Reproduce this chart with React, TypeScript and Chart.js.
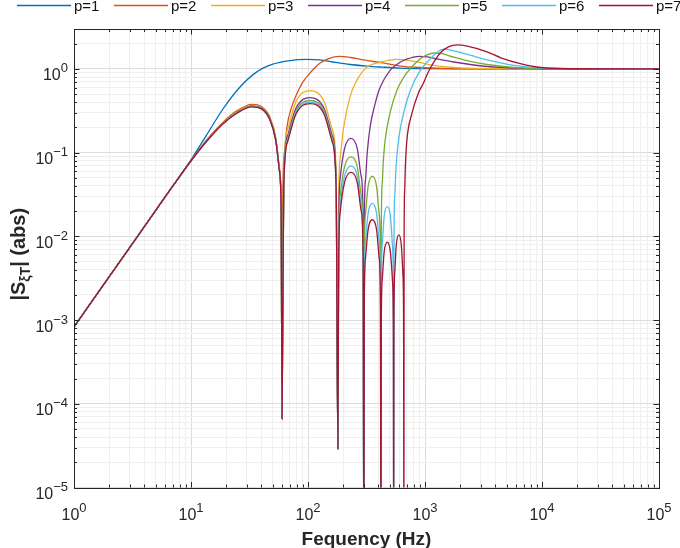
import { useEffect, useRef } from "react";
import { Chart, registerables } from "chart.js";

Chart.register(...registerables);

// |S_xiT| magnitude, one frequency/magnitude pair of arrays per curve
const seriesLabels = ["p=1", "p=2", "p=3", "p=4", "p=5", "p=6", "p=7"];

const freqP1 = [1, 2, 3, 5, 7, 10, 13.5, 18.7, 26, 36, 50, 70, 97, 126, 163, 230, 318, 437, 612, 1000, 2000, 5000, 100000];
const magP1 = [8.3e-4, 3.3e-3, 7.4e-3, 0.0205, 0.04, 0.082, 0.16, 0.33, 0.6, 0.91, 1.14, 1.26, 1.3, 1.28, 1.21, 1.13, 1.08, 1.05, 1.025, 1.01, 1.003, 1.0, 1.0];

const freqP2 = [1, 2, 3, 5, 7, 10, 13.5, 18.7, 25, 33, 40, 47, 53, 57, 59, 60, 61, 63, 66, 72, 80, 90, 103, 115, 126, 150, 185, 230, 300, 437, 600, 900, 1500, 3000, 100000];
const magP2 = [8.3e-4, 3.3e-3, 7.4e-3, 0.0205, 0.04, 0.08, 0.14, 0.23, 0.32, 0.378, 0.355, 0.27, 0.15, 0.065, 0.022, 6.6e-5, 0.035, 0.1, 0.2, 0.34, 0.5, 0.69, 0.88, 1.04, 1.17, 1.33, 1.41, 1.37, 1.28, 1.18, 1.09, 1.04, 1.015, 1.005, 1.0];

const freqP3 = [1, 2, 3, 5, 7, 10, 13.5, 18.7, 25, 33, 40, 47, 53, 57, 59, 60, 62, 67, 79, 104, 137, 161, 174, 180, 183, 189, 200, 228, 261, 318, 413, 574, 797, 1109, 1765, 3400, 100000];
const magP3 = [8.3e-4, 3.3e-3, 7.4e-3, 0.0205, 0.04, 0.08, 0.138, 0.225, 0.31, 0.366, 0.345, 0.262, 0.146, 0.063, 0.021, 6.6e-5, 0.055, 0.19, 0.41, 0.55, 0.41, 0.19, 0.055, 2.9e-5, 0.03, 0.09, 0.185, 0.46, 0.73, 1.05, 1.2, 1.3, 1.24, 1.12, 1.04, 1.01, 1.0];

const freqP4 = [1, 2, 3, 5, 7, 10, 13.5, 18.7, 25, 33, 40, 47, 53, 57, 59, 60, 62, 67, 79, 104, 137, 161, 174, 180, 183, 189, 205, 232, 264, 285, 296, 300, 303, 310, 320, 339, 374, 413, 503, 613, 797, 900, 1050, 1260, 1765, 2437, 3393, 6530, 10000, 100000];
const magP4 = [8.3e-4, 3.3e-3, 7.4e-3, 0.0205, 0.04, 0.08, 0.137, 0.223, 0.305, 0.36, 0.34, 0.258, 0.143, 0.062, 0.021, 6.6e-5, 0.045, 0.16, 0.34, 0.454, 0.34, 0.16, 0.045, 2.9e-5, 0.0148, 0.052, 0.111, 0.148, 0.111, 0.052, 0.0148, 1e-6, 0.014, 0.047, 0.095, 0.2, 0.38, 0.6, 0.96, 1.2, 1.38, 1.41, 1.39, 1.32, 1.21, 1.13, 1.07, 1.02, 1.005, 1.0];

const freqP5 = [1, 2, 3, 5, 7, 10, 13.5, 18.7, 25, 33, 40, 47, 53, 57, 59, 60, 62, 67, 79, 104, 137, 161, 174, 180, 183, 189, 205, 232, 264, 285, 296, 300, 303, 310, 326, 355, 386, 406, 416, 420, 423, 431, 440, 456, 503, 574, 700, 912, 1050, 1192, 1400, 1765, 2437, 3393, 6530, 10000, 100000];
const magP5 = [8.3e-4, 3.3e-3, 7.4e-3, 0.0205, 0.04, 0.08, 0.136, 0.222, 0.303, 0.357, 0.337, 0.255, 0.142, 0.061, 0.02, 6.6e-5, 0.042, 0.147, 0.315, 0.42, 0.315, 0.147, 0.042, 2.9e-5, 0.0089, 0.031, 0.067, 0.089, 0.067, 0.031, 0.0089, 1e-6, 0.00525, 0.0184, 0.039, 0.0525, 0.039, 0.0184, 0.00525, 1e-6, 0.012, 0.043, 0.078, 0.14, 0.3, 0.55, 0.9, 1.32, 1.48, 1.55, 1.52, 1.38, 1.23, 1.13, 1.03, 1.01, 1.0];

const freqP6 = [1, 2, 3, 5, 7, 10, 13.5, 18.7, 25, 33, 40, 47, 53, 57, 59, 60, 62, 67, 79, 104, 137, 161, 174, 180, 183, 189, 205, 232, 264, 285, 296, 300, 303, 310, 326, 355, 386, 406, 416, 420, 423, 431, 447, 476, 507, 527, 536, 540, 543, 551, 565, 593, 654, 747, 912, 1109, 1250, 1444, 1700, 2437, 3400, 4730, 6500, 9100, 15000, 100000];
const magP6 = [8.3e-4, 3.3e-3, 7.4e-3, 0.0205, 0.04, 0.08, 0.136, 0.221, 0.301, 0.355, 0.335, 0.253, 0.141, 0.061, 0.02, 6.6e-5, 0.04, 0.14, 0.3, 0.4, 0.3, 0.14, 0.04, 2.9e-5, 0.0069, 0.024, 0.052, 0.069, 0.052, 0.024, 0.0069, 1e-6, 0.0025, 0.0087, 0.0186, 0.0248, 0.0186, 0.0087, 0.0025, 1e-6, 0.0023, 0.0079, 0.017, 0.0226, 0.017, 0.0079, 0.0023, 1e-6, 0.008, 0.03, 0.065, 0.14, 0.29, 0.55, 0.96, 1.32, 1.55, 1.72, 1.67, 1.46, 1.28, 1.16, 1.08, 1.03, 1.01, 1.0];

const freqP7 = [1, 2, 3, 5, 7, 10, 13.5, 18.7, 25, 33, 40, 47, 53, 57, 59, 60, 62, 67, 79, 104, 137, 161, 174, 180, 183, 189, 205, 232, 264, 285, 296, 300, 303, 310, 326, 355, 386, 406, 416, 420, 423, 431, 447, 476, 507, 527, 536, 540, 543, 551, 568, 597, 628, 647, 656, 660, 663, 670, 680, 700, 771, 880, 971, 1040, 1109, 1350, 1600, 1900, 2300, 3393, 4500, 6530, 9800, 18000, 100000];
const magP7 = [8.3e-4, 3.3e-3, 7.4e-3, 0.0205, 0.04, 0.08, 0.135, 0.22, 0.3, 0.353, 0.333, 0.25, 0.14, 0.06, 0.02, 6.6e-5, 0.0385, 0.135, 0.29, 0.385, 0.29, 0.135, 0.0385, 2.9e-5, 0.0058, 0.02, 0.0435, 0.058, 0.0435, 0.02, 0.0058, 1e-6, 0.0016, 0.0055, 0.0119, 0.0158, 0.0119, 0.0055, 0.0016, 1e-6, 0.00085, 0.003, 0.0064, 0.0085, 0.0064, 0.003, 0.00085, 1e-6, 0.00104, 0.0036, 0.0078, 0.0104, 0.0078, 0.0036, 0.00104, 1e-6, 0.01, 0.035, 0.07, 0.14, 0.29, 0.52, 0.68, 0.85, 1.02, 1.55, 1.85, 1.94, 1.87, 1.6, 1.35, 1.16, 1.04, 1.005, 1.0];

const seriesFreq = [freqP1, freqP2, freqP3, freqP4, freqP5, freqP6, freqP7];
const seriesMag = [magP1, magP2, magP3, magP4, magP5, magP6, magP7];

// axis decades (labels are 10^exp) and minor grid mantissas
const xTickExps = [0, 1, 2, 3, 4, 5];
const yTickExps = [-5, -4, -3, -2, -1, 0];
const gridMantissas = [1, 2, 3, 4, 5, 6, 7, 8, 9];
const X_MIN = 1;
const X_MAX = 1e5;
const Y_MIN = 1e-5;
const Y_MAX = 3;

// MATLAB default line colours
const lineColors = ["#0072BD", "#D95319", "#EDB120", "#7E2F8E", "#77AC30", "#4DBEEE", "#A2142F"];

const FONT = '"Liberation Sans", Arial, Helvetica, sans-serif';
const AXIS_COLOR = "#262626";
const MAJOR_GRID = "#dcdcdc";
const MINOR_GRID = "#efefef";

function gridValues(exps: number[], max: number) {
  const vals: number[] = [];
  for (let e = exps[0]; e <= exps[exps.length - 1]; e++) {
    for (const m of gridMantissas) {
      const v = m * Math.pow(10, e);
      if (v <= max * 1.000001) vals.push(v);
    }
  }
  return vals;
}

function isDecade(v: number) {
  const l = Math.log10(v);
  return Math.abs(l - Math.round(l)) < 1e-9;
}

// "10" with a raised exponent, like MATLAB's TeX tick labels
function drawPow(ctx: CanvasRenderingContext2D, x: number, baseY: number, exp: number, align: "center" | "right") {
  const expText = exp < 0 ? "\u2212" + Math.abs(exp) : String(exp);
  ctx.font = `16px ${FONT}`;
  const wBase = ctx.measureText("10").width;
  ctx.font = `13px ${FONT}`;
  const wExp = ctx.measureText(expText).width;
  const total = wBase + wExp;
  const start = align === "center" ? x - total / 2 : x - total;
  ctx.textAlign = "left";
  ctx.textBaseline = "alphabetic";
  ctx.font = `16px ${FONT}`;
  ctx.fillText("10", start, baseY);
  ctx.font = `13px ${FONT}`;
  ctx.fillText(expText, start + wBase, baseY - 8);
}

const matlabAxes = {
  id: "matlabAxes",
  afterDraw(chart: any) {
    const { ctx, chartArea } = chart;
    const { left, right, top, bottom } = chartArea;
    const xs = chart.scales.x;
    const ys = chart.scales.y;
    ctx.save();

    // inward tick marks on all four sides
    ctx.strokeStyle = AXIS_COLOR;
    ctx.lineWidth = 1;
    ctx.beginPath();
    for (const t of xs.ticks) {
      const px = Math.round(xs.getPixelForValue(t.value)) + 0.5;
      if (px <= left + 1 || px >= right - 1) continue;
      const len = isDecade(t.value) ? 5.5 : 3;
      ctx.moveTo(px, bottom);
      ctx.lineTo(px, bottom - len);
      ctx.moveTo(px, top);
      ctx.lineTo(px, top + len);
    }
    for (const t of ys.ticks) {
      const py = Math.round(ys.getPixelForValue(t.value)) + 0.5;
      if (py <= top + 1 || py >= bottom - 1) continue;
      const len = isDecade(t.value) ? 5.5 : 3;
      ctx.moveTo(left, py);
      ctx.lineTo(left + len, py);
      ctx.moveTo(right, py);
      ctx.lineTo(right - len, py);
    }
    ctx.stroke();

    // axes box
    ctx.strokeRect(Math.round(left) + 0.5, Math.round(top) + 0.5, Math.round(right - left), Math.round(bottom - top));

    // tick labels
    ctx.fillStyle = AXIS_COLOR;
    for (const e of xTickExps) {
      drawPow(ctx, xs.getPixelForValue(Math.pow(10, e)), bottom + 32, e, "center");
    }
    for (const e of yTickExps) {
      drawPow(ctx, left - 6, ys.getPixelForValue(Math.pow(10, e)) + 11.5, e, "right");
    }

    // x title
    ctx.font = `bold 19px ${FONT}`;
    ctx.textAlign = "center";
    ctx.textBaseline = "alphabetic";
    ctx.fillText("Fequency (Hz)", (left + right) / 2, bottom + 57.5);

    // y title with subscript, rotated
    const parts = [
      { t: "|S", size: 20, dy: 0 },
      { t: "\u03BET", size: 14, dy: 5 },
      { t: "| (abs)", size: 20, dy: 0 },
    ];
    let total = 0;
    const widths = parts.map((p) => {
      ctx.font = `bold ${p.size}px ${FONT}`;
      const w = ctx.measureText(p.t).width;
      total += w;
      return w;
    });
    ctx.save();
    ctx.translate(24.5, (top + bottom) / 2 - 4);
    ctx.rotate(-Math.PI / 2);
    ctx.textAlign = "left";
    let cx = -total / 2;
    parts.forEach((p, i) => {
      ctx.font = `bold ${p.size}px ${FONT}`;
      ctx.fillText(p.t, cx, p.dy);
      cx += widths[i];
    });
    ctx.restore();

    // horizontal legend across the top
    chart.data.datasets.forEach((ds: any, i: number) => {
      const x0 = 17 + i * 97;
      ctx.strokeStyle = ds.borderColor;
      ctx.lineWidth = 1.3;
      ctx.beginPath();
      ctx.moveTo(x0, 5.5);
      ctx.lineTo(x0 + 54, 5.5);
      ctx.stroke();
      ctx.fillStyle = "#111";
      ctx.font = `15px ${FONT}`;
      ctx.textAlign = "left";
      ctx.fillText(ds.label, x0 + 57, 11);
    });

    ctx.restore();
  },
};

export default function App() {
  const chartRef = useRef<HTMLCanvasElement>(null);
  const chartInstance = useRef<Chart | null>(null);

  useEffect(() => {
    if (!chartRef.current) return;
    if (chartInstance.current) {
      chartInstance.current.destroy();
    }
    const ctx = chartRef.current.getContext("2d");
    if (!ctx) return;

    const xGrid = gridValues(xTickExps, X_MAX);
    const yGrid = gridValues(yTickExps, Y_MAX);
    const gridColor = (c: any) => (c.tick && isDecade(c.tick.value) ? MAJOR_GRID : MINOR_GRID);

    chartInstance.current = new Chart(ctx, {
      type: "line",
      data: {
        datasets: seriesLabels.map((label, i) => ({
          label,
          data: seriesFreq[i].map((f, j) => ({ x: f, y: seriesMag[i][j] })),
          borderColor: lineColors[i],
          backgroundColor: lineColors[i],
          borderWidth: 1.3,
          pointRadius: 0,
          fill: false,
          cubicInterpolationMode: "monotone" as const,
          order: seriesLabels.length - 1 - i,
        })),
      },
      options: {
        animation: false,
        responsive: false,
        events: [],
        layout: { padding: { left: 74, right: 21, top: 29, bottom: 60.5 } },
        plugins: {
          legend: { display: false },
          tooltip: { enabled: false },
        },
        scales: {
          x: {
            type: "logarithmic",
            min: X_MIN,
            max: X_MAX,
            border: { display: false },
            grid: { color: gridColor, lineWidth: 1, drawTicks: false },
            ticks: { display: false, autoSkip: false },
            afterBuildTicks: (scale: any) => {
              scale.ticks = xGrid.map((v) => ({ value: v }));
            },
          },
          y: {
            type: "logarithmic",
            min: Y_MIN,
            max: Y_MAX,
            border: { display: false },
            grid: { color: gridColor, lineWidth: 1, drawTicks: false },
            ticks: { display: false, autoSkip: false },
            afterBuildTicks: (scale: any) => {
              scale.ticks = yGrid.map((v) => ({ value: v }));
            },
          },
        },
      },
      plugins: [matlabAxes],
    });

    return () => {
      if (chartInstance.current) {
        chartInstance.current.destroy();
        chartInstance.current = null;
      }
    };
  }, []);

  return (
    <div style={{ position: "fixed", left: 0, top: 0, width: 680, height: 548, background: "#fff" }}>
      <canvas ref={chartRef} width={680} height={548} style={{ width: 680, height: 548 }}></canvas>
    </div>
  );
}
